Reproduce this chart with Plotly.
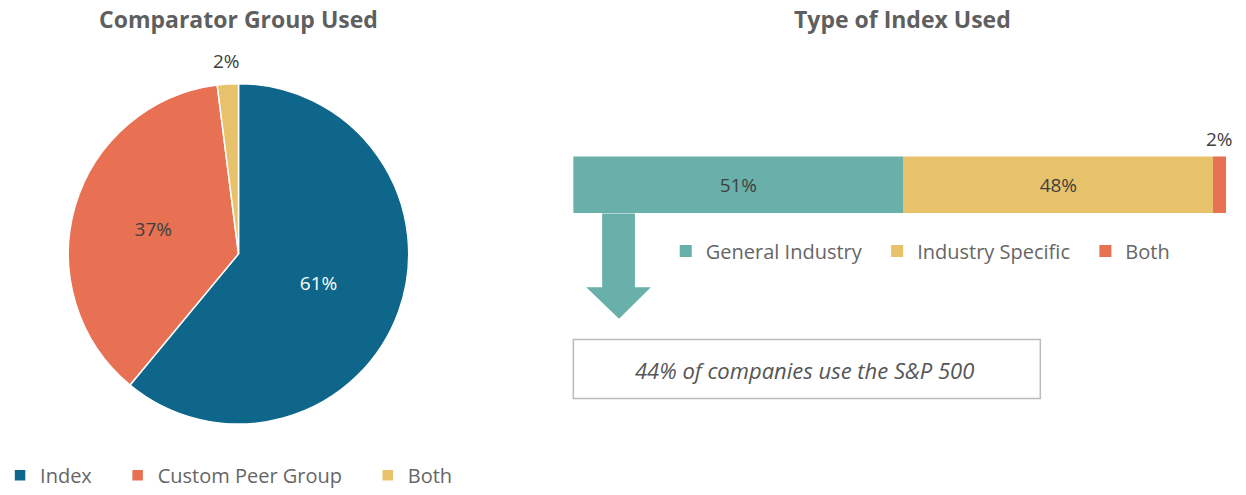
import math
import plotly.graph_objects as go

W, H = 1246, 495

# ---- data ----
pie_labels = ["Index", "Custom Peer Group", "Both"]
pie_values = [61, 37, 2]
pie_colors = ["#0E668B", "#E87053", "#E8C26A"]

bar_labels = ["General Industry", "Industry Specific", "Both"]
bar_values = [51, 48, 2]
bar_colors = ["#69B0AA", "#E8C26A", "#E87053"]

callout_text = "44% of companies use the S&P 500"

FONT = "Open Sans"
TXT = "#404040"
GREY = "#666666"
NB = "\u00a0"

# pie geometry (pixels)
PCX, PCY, PR = 232, 258, 173


def px(x):
    return x / W


def py(y):
    return 1 - y / H


fig = go.Figure()

fig.add_trace(go.Pie(
    labels=[pie_labels[0] + NB * 4, pie_labels[1] + NB * 4, pie_labels[2]],
    values=pie_values, sort=False, direction="clockwise",
    rotation=0, marker=dict(colors=pie_colors, line=dict(color="white", width=1.5)),
    textinfo="percent", texttemplate="%{percent:.0%}",
    textposition=["inside", "inside", "none"],
    insidetextfont=dict(color=["white", TXT, TXT], size=19, family=FONT),
    insidetextorientation="horizontal",
    domain=dict(x=[px(PCX - PR), px(PCX + PR)], y=[py(PCY + PR), py(PCY - PR)]),
    legend="legend", showlegend=True, hoverinfo="percent",
))

# label for the thin pie slice, placed outside at its mid angle
total = sum(pie_values)
theta = 2 * math.pi * (sum(pie_values[:2]) + pie_values[2] / 2) / total
dist = PR + 23
fig.add_annotation(
    x=px(PCX + dist * math.sin(theta)), y=py(PCY - dist * math.cos(theta)),
    xref="paper", yref="paper", xanchor="center", yanchor="middle",
    text=f"{round(100 * pie_values[2] / total)}%", showarrow=False,
    font=dict(color=TXT, size=19, family=FONT),
)

pads = [NB * 2, NB * 2, ""]
for lab, val, col, pad in zip(bar_labels, bar_values, bar_colors, pads):
    show_txt = val >= 10
    fig.add_trace(go.Bar(
        y=["Index"], x=[val], name=lab + pad, orientation="h",
        marker=dict(color=col, line=dict(width=0)),
        text=[f"{val}%"] if show_txt else None,
        textposition="inside" if show_txt else "none",
        insidetextanchor="middle",
        textfont=dict(color=TXT, size=19, family=FONT),
        xaxis="x", yaxis="y", legend="legend2", hoverinfo="name+x",
    ))

# small-segment label above bar
fig.add_annotation(
    x=sum(bar_values[:-1]) + bar_values[-1] / 2, y=0.5, xref="x", yref="y",
    text=f"{bar_values[-1]}%", showarrow=False, xanchor="center",
    yanchor="bottom", yshift=2,
    font=dict(color=TXT, size=19, family=FONT),
)

# titles
fig.add_annotation(x=px(232), y=py(19), xref="paper", yref="paper",
                   xanchor="center", yanchor="middle",
                   text="<b>Comparator Group Used</b>", showarrow=False,
                   font=dict(size=23, color="#5f5f5f", family=FONT))
fig.add_annotation(x=px(900), y=py(19), xref="paper", yref="paper",
                   xanchor="center", yanchor="middle",
                   text="<b>Type of Index Used</b>", showarrow=False,
                   font=dict(size=23, color="#5f5f5f", family=FONT))

# arrow
arrow = (f"M {px(598)} {py(217)} L {px(631)} {py(217)} L {px(631)} {py(292)} "
         f"L {px(647)} {py(292)} L {px(615)} {py(324)} L {px(582)} {py(292)} "
         f"L {px(598)} {py(292)} Z")
fig.add_shape(type="path", path=arrow, xref="paper", yref="paper",
              fillcolor=bar_colors[0], line=dict(width=0))

# callout box
fig.add_shape(type="rect", xref="paper", yref="paper",
              x0=px(569), x1=px(1039), y0=py(405), y1=py(345),
              line=dict(color="#bbbbbb", width=1.5), fillcolor="white", layer="below")
fig.add_annotation(x=px(802), y=py(376), xref="paper", yref="paper",
                   xanchor="center", yanchor="middle",
                   text=f"<i>{callout_text}</i>", showarrow=False,
                   font=dict(size=22, color="#555555", family=FONT))

fig.update_layout(
    width=W, height=H, margin=dict(l=0, r=0, t=0, b=0),
    paper_bgcolor="white", plot_bgcolor="rgba(0,0,0,0)",
    barmode="stack", bargap=0,
    font=dict(family=FONT, color=GREY),
    xaxis=dict(domain=[px(569), px(1226)], range=[0, sum(bar_values)],
               visible=False, fixedrange=True),
    yaxis=dict(domain=[py(217), py(159)], range=[-0.5, 0.5],
               visible=False, fixedrange=True),
    legend=dict(orientation="h", x=px(-8), y=py(483), xanchor="left", yanchor="middle",
                font=dict(size=20, color=GREY, family=FONT), itemclick=False,
                traceorder="normal"),
    legend2=dict(orientation="h", x=px(662), y=py(255), xanchor="left", yanchor="middle",
                 font=dict(size=20, color=GREY, family=FONT), itemclick=False,
                 traceorder="normal"),
)

post = "document.body.style.margin='0px';"
fig.write_html("out.html", post_script=post,
               config={"displayModeBar": False})
